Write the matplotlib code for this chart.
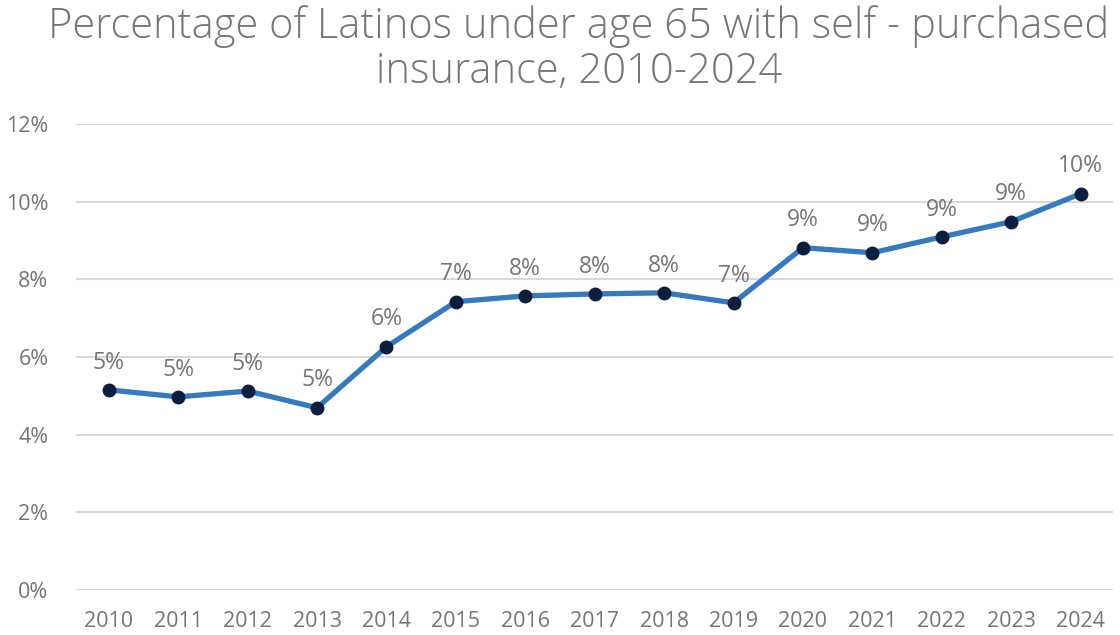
import matplotlib
matplotlib.use("Agg")
import matplotlib.pyplot as plt
from matplotlib.ticker import FuncFormatter, MultipleLocator

years = ["2010", "2011", "2012", "2013", "2014", "2015", "2016", "2017",
         "2018", "2019", "2020", "2021", "2022", "2023", "2024"]
values = [5.15, 4.97, 5.12, 4.69, 6.26, 7.42, 7.57, 7.62,
          7.65, 7.39, 8.81, 8.68, 9.09, 9.48, 10.2]
labels = ["5%", "5%", "5%", "5%", "6%", "7%", "8%", "8%",
          "8%", "7%", "9%", "9%", "9%", "9%", "10%"]
title = "Percentage of Latinos under age 65 with self - purchased\ninsurance, 2010-2024"

plt.rcParams['font.family'] = ['Open Sans', 'DejaVu Sans']
gray = "#767676"

fig = plt.figure(figsize=(11.2, 6.35), dpi=100)
ax = fig.add_axes([0.068, 0.071, 0.926, 0.734])

x = list(range(len(years)))
ax.plot(x, values, color="#3579C0", linewidth=3.8, zorder=3,
        marker="o", markersize=9, markerfacecolor="#0C1E3E",
        markeredgecolor="#0C1E3E")
for xi, v, lab in zip(x, values, labels):
    ax.annotate(lab, (xi, v), xytext=(0, 11), textcoords="offset points",
                ha="center", va="bottom", fontsize=16.5, color=gray)

ax.set_xlim(-0.47, len(years) - 0.53)
ax.set_ylim(0, 12)
ax.yaxis.set_major_locator(MultipleLocator(2))
ax.yaxis.set_major_formatter(FuncFormatter(lambda v, p: f"{v:.0f}%"))
ax.set_xticks(x)
ax.set_xticklabels(years)
ax.tick_params(axis="both", length=0, labelsize=15.5, labelcolor=gray)
ax.tick_params(axis="y", pad=20)
ax.tick_params(axis="x", pad=15)
ax.grid(axis="y", color="#D9D9D9", linewidth=1.5)
ax.set_axisbelow(True)
for s in ax.spines.values():
    s.set_visible(False)

fig.text(0.517, 0.992, title, ha="center", va="top", fontsize=30,
         color=gray, fontweight=300, linespacing=1.08)

fig.savefig("out.png", dpi=100)
